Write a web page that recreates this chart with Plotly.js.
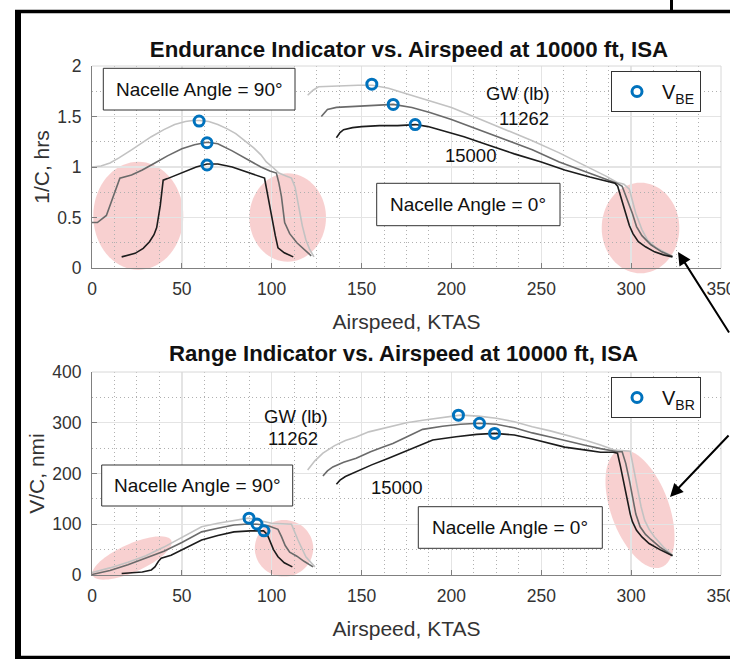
<!DOCTYPE html>
<html>
<head>
<meta charset="utf-8">
<script src="https://cdn.plot.ly/plotly-3.0.1.min.js"></script>
<style>html,body{margin:0;padding:0;background:#fff;}#chart{width:730px;height:659px;}</style>
</head>
<body>
<div id="chart"></div>
<script>
// ---------------- DATA ----------------
const xTicks = [0, 50, 100, 150, 200, 250, 300, 350];
const endYTicks = [0, 0.5, 1, 1.5, 2];
const rngYTicks = [0, 100, 200, 300, 400];
const weightNames = ['GW 11262 lb', 'GW intermediate', 'GW 15000 lb'];

// Endurance indicator (1/C, hrs), nacelle 90 deg
const end90LightX = [0, 5, 10, 15, 22, 28, 33, 40, 46, 52, 56, 60, 65, 70, 75, 80, 85, 90, 94, 97, 101, 104, 108, 111, 113, 115, 117, 119, 121, 123.5];
const end90LightY = [1.00, 1.01, 1.04, 1.09, 1.17, 1.24, 1.30, 1.37, 1.42, 1.45, 1.46, 1.46, 1.45, 1.42, 1.38, 1.33, 1.26, 1.19, 1.12, 1.05, 0.99, 0.94, 0.91, 0.89, 0.80, 0.62, 0.42, 0.28, 0.19, 0.11];
const end90MidX = [0, 3, 8, 12, 15.5, 22, 28, 35, 42, 50, 57, 64, 70, 78, 86, 94, 99, 102.6, 104, 105.4, 107.2, 110, 114, 118, 122];
const end90MidY = [0.45, 0.45, 0.52, 0.72, 0.89, 0.92, 0.97, 1.04, 1.11, 1.18, 1.22, 1.245, 1.23, 1.16, 1.08, 1.00, 0.96, 0.94, 0.84, 0.71, 0.45, 0.34, 0.25, 0.18, 0.12];
const end90HeavyX = [16.5, 24, 28.5, 32, 34.5, 36, 38, 39.6, 42, 47, 52, 58, 64, 70, 78, 85, 91, 96, 98, 100, 102, 103.5, 107, 112];
const end90HeavyY = [0.11, 0.145, 0.195, 0.26, 0.33, 0.40, 0.62, 0.87, 0.885, 0.92, 0.96, 1.00, 1.03, 1.03, 1.00, 0.96, 0.92, 0.89, 0.70, 0.50, 0.32, 0.20, 0.15, 0.11];
const vbe90X = [59.6, 64, 64];
const vbe90Y = [1.455, 1.24, 1.02];

// Endurance indicator, nacelle 0 deg
const end0LightX = [120, 123, 126, 132, 140, 148, 156, 165, 174, 185, 200, 215, 230, 245, 260, 275, 286, 292, 296, 299, 302.6, 306, 309, 314, 319, 323];
const end0LightY = [1.71, 1.76, 1.795, 1.80, 1.81, 1.81, 1.81, 1.78, 1.73, 1.67, 1.59, 1.48, 1.37, 1.26, 1.14, 1.01, 0.91, 0.85, 0.83, 0.78, 0.54, 0.38, 0.28, 0.20, 0.15, 0.115];
const end0MidX = [127.6, 131, 136, 145, 155, 167.6, 178, 188, 200, 215, 230, 245, 260, 275, 292, 295, 297, 300.7, 303, 306, 311, 317, 323];
const end0MidY = [1.50, 1.57, 1.59, 1.60, 1.61, 1.62, 1.59, 1.54, 1.47, 1.37, 1.27, 1.17, 1.05, 0.95, 0.84, 0.81, 0.72, 0.54, 0.41, 0.32, 0.23, 0.16, 0.115];
const end0HeavyX = [136, 138, 140, 145, 150, 160, 170, 180, 187, 197, 207, 220, 235, 250, 263, 277, 291, 292.5, 295, 297, 299, 301, 304, 308, 313, 318, 323];
const end0HeavyY = [1.29, 1.34, 1.37, 1.39, 1.40, 1.41, 1.41, 1.42, 1.40, 1.35, 1.30, 1.22, 1.13, 1.05, 0.97, 0.90, 0.84, 0.81, 0.67, 0.54, 0.42, 0.34, 0.26, 0.21, 0.16, 0.13, 0.11];
const vbe0X = [155.7, 167.6, 179.8];
const vbe0Y = [1.82, 1.62, 1.42];

// Range indicator (V/C, nmi), nacelle 90 deg
const rng90LightX = [0, 10, 20, 30, 40, 50, 61, 70, 79, 87, 95, 100, 106, 111, 114.6, 119, 124];
const rng90LightY = [5, 14, 25, 38, 55, 74, 95, 102, 108, 112, 106, 102, 101, 100, 69, 36, 16];
const rng90MidX = [0, 10, 20, 30, 40, 50, 61, 70, 79, 87, 92, 98, 103.5, 105.5, 107.5, 110, 114, 118, 123];
const rng90MidY = [1, 9, 20, 33, 47, 64, 85, 92, 98.5, 100.5, 100, 97, 90, 75, 58, 45, 37, 27, 16];
const rng90HeavyX = [16.5, 22, 28, 33, 35, 37, 38.5, 44, 50, 61, 70, 79, 88, 95.5, 97.5, 99, 101, 103.5, 107, 111.5];
const rng90HeavyY = [3, 4, 6, 10, 16, 27, 33, 39, 50, 69, 78, 85, 87, 87, 80, 68, 50, 36, 24, 16];
const vbr90X = [87.4, 91.8, 95.7];
const vbr90Y = [112, 100.5, 87];

// Range indicator, nacelle 0 deg
const rng0LightX = [120, 124, 128.5, 135, 141, 147, 154, 165, 175, 184, 195, 205, 215, 225, 235, 245, 255, 265, 275, 283, 291, 299.5, 301, 302.6, 304, 305.5, 307.5, 310, 313, 318, 323];
const rng0LightY = [207, 225, 240, 255, 265, 272, 282, 292, 300, 305, 311, 315, 313, 309, 302, 292, 284, 275, 265, 256, 246, 244, 215, 187, 160, 135, 108, 90, 75, 55, 39];
const rng0MidX = [128.5, 131, 134, 140, 147, 155, 162, 167.4, 175, 184, 195, 205, 215.6, 225, 235, 245, 255, 265, 275, 283, 292.4, 295, 297, 299, 301, 302.6, 305, 308, 311, 316, 323];
const rng0MidY = [195, 205, 213, 222, 230, 243, 252, 259, 272, 287, 293, 297, 299, 297, 290, 280, 272, 263, 255, 249, 243, 243, 220, 187, 150, 120, 95, 80, 70, 55, 38];
const rng0HeavyX = [136, 138, 141, 147, 155.6, 165, 172, 177, 189.6, 202.6, 214, 224, 235, 245, 253.5, 263, 275, 283, 290, 292.4, 294, 295.6, 297, 298.3, 299.5, 300.7, 303, 306, 310, 316, 323];
const rng0HeavyY = [179, 187, 194, 204, 217, 230, 240, 247, 266, 272.5, 277, 279, 276, 268, 260, 252, 246, 242, 242, 240, 215, 187, 160, 135, 120, 105, 88, 75, 62, 50, 38];
const vbr0X = [203.9, 215.6, 224];
const vbr0Y = [315, 299, 279];

// ---------------- LAYOUT HELPERS ----------------
const W = 730, H = 659;
const px = v => v / W;
const py = v => 1 - v / H;
const FONT = 'Liberation Sans, Arial, Helvetica, sans-serif';
const lineColors = ['#c2c2c2', '#6a6a6a', '#1c1c1c'];
const blue = '#0072BD';

function lineTrace(x, y, i, xa, ya, name) {
  return {x: x, y: y, xaxis: xa, yaxis: ya, mode: 'lines', name: name,
          line: {color: lineColors[i], width: 1.6}, showlegend: false, hoverinfo: 'x+y+name'};
}
function markerTrace(x, y, xa, ya, name, legend) {
  return {x: x, y: y, xaxis: xa, yaxis: ya, mode: 'markers', name: name, legend: legend,
          marker: {symbol: 'circle-open', size: 10, color: blue, line: {width: 3, color: blue}},
          showlegend: true};
}

const traces = [
  lineTrace(end90LightX, end90LightY, 0, 'x', 'y', weightNames[0]),
  lineTrace(end90MidX, end90MidY, 1, 'x', 'y', weightNames[1]),
  lineTrace(end90HeavyX, end90HeavyY, 2, 'x', 'y', weightNames[2]),
  lineTrace(end0LightX, end0LightY, 0, 'x', 'y', weightNames[0]),
  lineTrace(end0MidX, end0MidY, 1, 'x', 'y', weightNames[1]),
  lineTrace(end0HeavyX, end0HeavyY, 2, 'x', 'y', weightNames[2]),
  markerTrace(vbe90X.concat(vbe0X), vbe90Y.concat(vbe0Y), 'x', 'y', 'V<sub>BE</sub>', 'legend'),
  lineTrace(rng90LightX, rng90LightY, 0, 'x2', 'y2', weightNames[0]),
  lineTrace(rng90MidX, rng90MidY, 1, 'x2', 'y2', weightNames[1]),
  lineTrace(rng90HeavyX, rng90HeavyY, 2, 'x2', 'y2', weightNames[2]),
  lineTrace(rng0LightX, rng0LightY, 0, 'x2', 'y2', weightNames[0]),
  lineTrace(rng0MidX, rng0MidY, 1, 'x2', 'y2', weightNames[1]),
  lineTrace(rng0HeavyX, rng0HeavyY, 2, 'x2', 'y2', weightNames[2]),
  markerTrace(vbr90X.concat(vbr0X), vbr90Y.concat(vbr0Y), 'x2', 'y2', 'V<sub>BR</sub>', 'legend2')
];

function xAxis(anchor) {
  return {domain: [px(92), px(721)], range: [0, 350], tickvals: xTicks, anchor: anchor,
          showline: true, linecolor: '#808080', linewidth: 1, ticks: 'inside', ticklen: 5, tickcolor: '#808080',
          showgrid: true, gridcolor: '#e4e4e4', gridwidth: 1.3, zeroline: false,
          minor: {dtick: 12.5, showgrid: true, gridcolor: '#b0b0b0', griddash: '1px,3px', gridwidth: 1, ticks: ''},
          tickfont: {family: FONT, size: 17.5, color: '#333'}, ticklabelstandoff: 5,
          ticklabeloverflow: 'allow',
          title: {text: 'Airspeed, KTAS', font: {family: FONT, size: 21, color: '#333'}, standoff: 16}};
}
function yAxis(dom, range, ticks, minorStep, title, anchor) {
  return {domain: dom, range: range, tickvals: ticks, anchor: anchor,
          showline: true, linecolor: '#808080', linewidth: 1, ticks: 'inside', ticklen: 5, tickcolor: '#808080',
          showgrid: true, gridcolor: '#e4e4e4', gridwidth: 1.3, zeroline: false,
          minor: {dtick: minorStep, showgrid: true, gridcolor: '#b0b0b0', griddash: '1px,3px', gridwidth: 1, ticks: ''},
          tickfont: {family: FONT, size: 17.5, color: '#333'}, ticklabelstandoff: 6,
          title: {text: title, font: {family: FONT, size: 21, color: '#333'}, standoff: 1}};
}

// pink highlight ellipses (pixel geometry -> paper)
function ellipsePath(cx, cy, a, b, angDeg) {
  const t = angDeg * Math.PI / 180;
  let d = '';
  for (let k = 0; k <= 72; k++) {
    const s = k / 72 * 2 * Math.PI;
    const ex = a * Math.cos(s), ey = b * Math.sin(s);
    const X = cx + ex * Math.cos(t) - ey * Math.sin(t);
    const Y = cy + ex * Math.sin(t) + ey * Math.cos(t);
    d += (k === 0 ? 'M' : 'L') + px(X).toFixed(5) + ',' + py(Y).toFixed(5);
  }
  return d + 'Z';
}
const pink = 'rgba(240,150,150,0.45)';
function ell(cx, cy, a, b, ang) {
  return {type: 'path', xref: 'paper', yref: 'paper', path: ellipsePath(cx, cy, a, b, ang),
          fillcolor: pink, line: {width: 0}, layer: 'below'};
}
function box(x0, y0, x1, y1) {
  return {type: 'rect', xref: 'paper', yref: 'paper', x0: px(x0), x1: px(x1), y0: py(y1), y1: py(y0),
          fillcolor: '#fff', line: {color: '#333', width: 1}, layer: 'above'};
}
function pline(x0, y0, x1, y1, w, c) {
  return {type: 'line', xref: 'paper', yref: 'paper', x0: px(x0), x1: px(x1), y0: py(y0), y1: py(y1),
          line: {color: c, width: w}, layer: 'above'};
}

const shapes = [
  ell(138.3, 215.8, 45, 54, 0),
  ell(287.7, 217.5, 38.3, 44.2, 0),
  ell(640.5, 228, 38.8, 45.3, 0),
  ell(132, 558, 43, 14, -24),
  ell(284, 548.3, 29.2, 28.3, 0),
  ell(640, 509, 62, 29, 70),
  // top/right plot edges
  pline(92, 66, 721, 66, 1, '#d8d8d8'), pline(721, 66, 721, 268, 1, '#d8d8d8'),
  pline(92, 372, 721, 372, 1, '#d8d8d8'), pline(721, 372, 721, 575, 1, '#d8d8d8'),
  // boxes
  box(103.3, 68.3, 295, 110),
  box(376.7, 183.3, 560, 225.7),
  box(101.7, 465, 292.7, 506),
  box(418.3, 506.7, 602.3, 548.3),
  // page frame
  pline(15, 11.5, 730, 11.5, 3.5, '#000'),
  pline(18, 10, 18, 659, 6, '#000'),
  pline(15, 657.5, 730, 657.5, 3.5, '#000'),
  pline(671.5, 0, 671.5, 12, 3, '#000')
];

function txt(t, x, y, size, bold) {
  return {text: bold ? '<b>' + t + '</b>' : t, x: px(x), y: py(y), xref: 'paper', yref: 'paper',
          xanchor: 'center', yanchor: 'middle', showarrow: false,
          font: {family: FONT, size: size, color: '#111'}};
}
function arrow(hx, hy, ax, ay) {
  return {text: '', x: px(hx), y: py(hy), xref: 'paper', yref: 'paper', ax: ax, ay: ay,
          showarrow: true, arrowhead: 2, arrowsize: 1.3, arrowwidth: 2, arrowcolor: '#000', standoff: 0};
}

const annotations = [
  txt('Range Indicator vs. Airspeed at 10000 ft, ISA', 404, 353, 22.2, true),
  txt('Nacelle Angle = 90°', 199, 89.5, 19, false),
  txt('Nacelle Angle = 0°', 468, 204.5, 19, false),
  txt('Nacelle Angle = 90°', 197, 485.5, 19, false),
  txt('Nacelle Angle = 0°', 510, 527.5, 19, false),
  txt('GW (lb)', 518, 93, 18.5, false),
  txt('11262', 524, 118, 18.5, false),
  txt('15000', 471, 156, 18.5, false),
  txt('GW (lb)', 296, 416, 18.5, false),
  txt('11262', 293, 438, 18.5, false),
  txt('15000', 396, 488, 18.5, false),
  arrow(678, 252, 80, 82),
  arrow(670, 497, 90, -63)
];

function legendBox(yTop) {
  return {x: px(611), y: py(yTop), xanchor: 'left', yanchor: 'top', xref: 'paper', yref: 'paper',
          bgcolor: '#fff', bordercolor: '#333', borderwidth: 1,
          font: {family: FONT, size: 20, color: '#111'}, itemwidth: 40, tracegroupgap: 0};
}

const layout = {
  width: W, height: H, margin: {l: 0, r: 0, t: 0, b: 0},
  paper_bgcolor: '#fff', plot_bgcolor: '#fff',
  title: {text: '<b>Endurance Indicator vs. Airspeed at 10000 ft, ISA</b>',
          font: {family: FONT, size: 22.3, color: '#111'},
          x: px(409), xanchor: 'center', y: py(49), yanchor: 'middle'},
  xaxis: xAxis('y'),
  yaxis: yAxis([py(268), py(66)], [0, 2], endYTicks, 0.25, '1/C, hrs', 'x'),
  xaxis2: xAxis('y2'),
  yaxis2: yAxis([py(575), py(372)], [0, 400], rngYTicks, 50, 'V/C, nmi', 'x2'),
  legend: legendBox(71),
  legend2: legendBox(377),
  shapes: shapes,
  annotations: annotations,
  showlegend: true
};

Plotly.newPlot('chart', traces, layout, {displayModeBar: false, staticPlot: true});
</script>
</body>
</html>
